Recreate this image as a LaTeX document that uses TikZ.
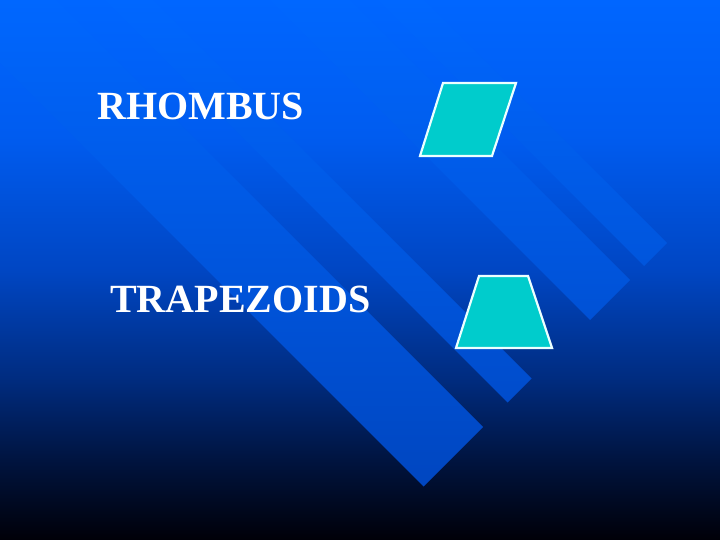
\documentclass[tikz,border=0pt]{standalone}
\usepackage{fontspec}
\setmainfont{Liberation Serif}
\definecolor{bgT}{RGB}{0,102,255}
\definecolor{bgD}{RGB}{0,92,240}
\definecolor{bgC}{RGB}{0,70,195}
\definecolor{bgB}{RGB}{0,44,128}
\definecolor{bgA}{RGB}{0,20,64}
\definecolor{bgK}{RGB}{0,0,8}
\definecolor{bandT}{RGB}{0,103,255}
\definecolor{bandA}{RGB}{0,70,192}
\definecolor{bandB}{RGB}{0,76,203}
\definecolor{bandC}{RGB}{0,81,213}
\definecolor{bandD}{RGB}{0,85,220}
\definecolor{shapecyan}{RGB}{0,204,204}
\definecolor{shapeedge}{RGB}{235,255,255}
\pgfdeclareverticalshading{bgshade}{100bp}{color(0bp)=(bgK); color(25bp)=(bgK); color(32.5bp)=(bgA); color(40bp)=(bgB); color(50bp)=(bgC); color(62.5bp)=(bgD); color(75bp)=(bgT); color(100bp)=(bgT)}
\begin{document}
\begin{tikzpicture}[x=1bp,y=-1bp,
  lbl/.style={text=white,font=\bfseries\fontsize{40bp}{48bp}\selectfont,inner sep=0pt,anchor=base west},
  band/.style={top color=bandT},
  quad/.style={fill=shapecyan,draw=shapeedge,line width=2.2bp,line join=miter}]
\useasboundingbox (0,0) rectangle (720,540);
\clip (0,0) rectangle (720,540);
\shade[shading=bgshade] (0,0) rectangle (720,540);
% diagonal bands
\shade[band,bottom color=bandA] (-63,0) -- (423.5,486.5) -- (483,427) -- (56,0) -- cycle;
\shade[band,bottom color=bandB] (105,0) -- (507.5,402.5) -- (531.5,378.5) -- (153,0) -- cycle;
\shade[band,bottom color=bandC] (270,0) -- (590,320) -- (630,280) -- (350,0) -- cycle;
\shade[band,bottom color=bandD] (378,0) -- (644,266) -- (667,243) -- (424,0) -- cycle;
% shapes
\draw[quad] (420,156) -- (443,83) -- (516,83) -- (492,156) -- cycle;
\draw[quad] (456,348) -- (479,276) -- (528,276) -- (552,348) -- cycle;
% labels
\node[lbl] (rh) at (97,120) {RHOMBUS};
\node[lbl] (tz) at (110,312) {TRAPEZOIDS};
\end{tikzpicture}
\end{document}
